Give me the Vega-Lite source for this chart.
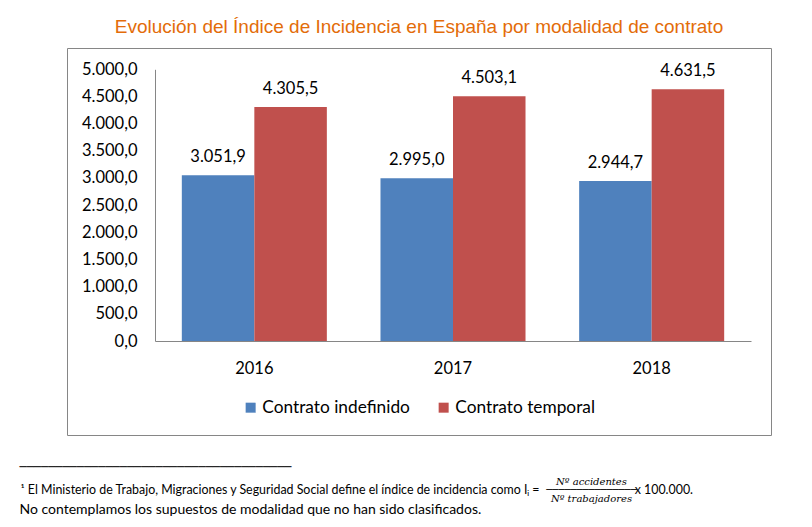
{
  "$schema": "https://vega.github.io/schema/vega-lite/v6.json",
  "background": "white",
  "autosize": {"type": "pad"},
  "padding": {"left": 19, "top": 17, "right": 0, "bottom": 0},
  "title": {
    "text": "──────────────────────────────────────",
    "subtitle": "No contemplamos los supuestos de modalidad que no han sido clasificados.",
    "orient": "bottom",
    "anchor": "start",
    "frame": "bounds",
    "font": "DejaVu Sans Mono",
    "fontSize": 11.9,
    "fontWeight": "normal",
    "color": "black",
    "subtitleFont": "Lato",
    "subtitleFontSize": 14,
    "subtitleColor": "black",
    "subtitlePadding": 30,
    "offset": -42
  },
  "vconcat": [
    {
      "width": 704,
      "height": 387,
      "title": {
        "text": "Evolución del Índice de Incidencia en España por modalidad de contrato",
        "orient": "top",
        "anchor": "middle",
        "frame": "group",
        "font": "Liberation Sans",
        "fontSize": 19,
        "fontWeight": "normal",
        "color": "#E36C09",
        "offset": 11
      },
      "data": {
        "values": [
          {"año": "2016", "modalidad": "Contrato indefinido", "valor": 3051.9},
          {"año": "2016", "modalidad": "Contrato temporal", "valor": 4305.5},
          {"año": "2017", "modalidad": "Contrato indefinido", "valor": 2995.0},
          {"año": "2017", "modalidad": "Contrato temporal", "valor": 4503.1},
          {"año": "2018", "modalidad": "Contrato indefinido", "valor": 2944.7},
          {"año": "2018", "modalidad": "Contrato temporal", "valor": 4631.5}
        ]
      },
      "encoding": {
        "x": {
          "field": "año",
          "type": "nominal",
          "scale": {"range": [88, 684], "paddingInner": 0.27, "paddingOuter": 0.135},
          "axis": {
            "orient": "bottom",
            "offset": -94,
            "labelAngle": 0,
            "labelPadding": 19,
            "labelFont": "Lato",
            "labelFontSize": 16.5,
            "labelColor": "black",
            "ticks": false,
            "grid": false,
            "domainColor": "#868686",
            "domainWidth": 1,
            "title": "¹ El Ministerio de Trabajo, Migraciones y Seguridad Social define el índice de incidencia como Iᵢ =\u00a0\u00a0\u00a0\u00a0\u00a0\u00a0\u00a0\u00a0\u00a0\u00a0\u00a0\u00a0\u00a0\u00a0\u00a0\u00a0\u00a0\u00a0\u00a0\u00a0\u00a0\u00a0\u00a0\u00a0\u00a0\u00a0\u00a0\u00a0\u00a0\u00a0x 100.000.",
            "titleX": -47,
            "titleY": 152,
            "titleAlign": "left",
            "titleBaseline": "alphabetic",
            "titleFont": "Lato",
            "titleFontSize": 12.4,
            "titleFontWeight": "normal",
            "titleColor": "black"
          }
        },
        "xOffset": {
          "field": "modalidad",
          "type": "nominal",
          "scale": {"paddingInner": 0, "paddingOuter": 0}
        },
        "y": {
          "field": "valor",
          "type": "quantitative",
          "scale": {"domain": [0, 5000], "range": [293, 21.3], "nice": false, "zero": true},
          "axis": {
            "orient": "left",
            "offset": -88,
            "values": [0, 500, 1000, 1500, 2000, 2500, 3000, 3500, 4000, 4500, 5000],
            "format": ",.1f",
            "labelPadding": 18,
            "labelFont": "Lato",
            "labelFontSize": 16.5,
            "labelColor": "black",
            "ticks": false,
            "grid": false,
            "domainColor": "#868686",
            "domainWidth": 1,
            "title": ["Nº accidentes", "───────────────", "Nº trabajadores"],
            "titleAngle": 0,
            "titleX": 436,
            "titleY": 436,
            "titleAlign": "center",
            "titleBaseline": "alphabetic",
            "titleFont": "DejaVu Serif",
            "titleFontStyle": "italic",
            "titleFontWeight": "normal",
            "titleFontSize": 10,
            "titleLineHeight": 8.5,
            "titleColor": "black"
          }
        }
      },
      "layer": [
        {
          "mark": {"type": "bar"},
          "encoding": {
            "color": {
              "field": "modalidad",
              "type": "nominal",
              "scale": {
                "domain": ["Contrato indefinido", "Contrato temporal"],
                "range": ["#4F81BD", "#C0504D"]
              },
              "legend": {
                "orient": "none",
                "legendX": 175,
                "legendY": 351,
                "direction": "horizontal",
                "title": null,
                "symbolType": "square",
                "symbolSize": 100,
                "symbolStrokeWidth": 0,
                "symbolOpacity": 1,
                "labelFont": "Lato",
                "labelFontSize": 17.3,
                "labelColor": "black",
                "labelOffset": 3,
                "columnPadding": 25,
                "padding": 0
              }
            }
          }
        },
        {
          "mark": {
            "type": "text",
            "dy": -13,
            "baseline": "alphabetic",
            "font": "Lato",
            "fontSize": 16.5,
            "color": "black"
          },
          "encoding": {
            "text": {"field": "valor", "type": "quantitative", "format": ",.1f"}
          }
        }
      ]
    }
  ],
  "config": {
    "locale": {
      "number": {"decimal": ",", "thousands": ".", "grouping": [3], "currency": ["", " €"]}
    },
    "view": {"stroke": "#868686", "strokeWidth": 1}
  }
}
